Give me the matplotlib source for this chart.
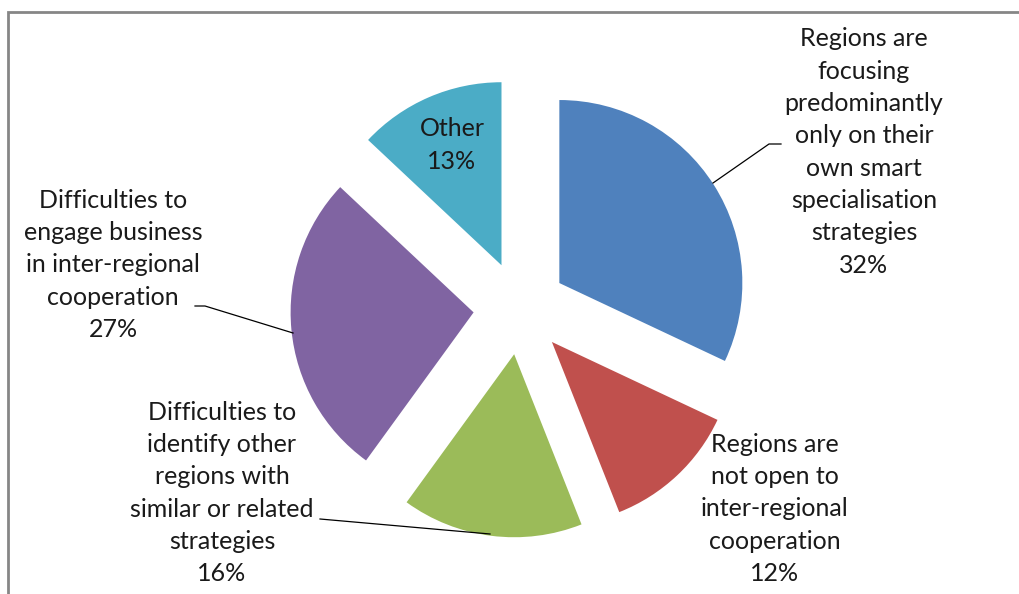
import matplotlib
matplotlib.use('Agg')
import matplotlib.pyplot as plt
from matplotlib.patches import Rectangle

plt.rcParams['font.family'] = ['Lato', 'DejaVu Sans']

# Share of responses (%)
categories = ['Regions are\nfocusing\npredominantly\nonly on their\nown smart\nspecialisation\nstrategies',
              'Regions are\nnot open to\ninter-regional\ncooperation',
              'Difficulties to\nidentify other\nregions with\nsimilar or related\nstrategies',
              'Difficulties to\nengage business\nin inter-regional\ncooperation',
              'Other']
values = [32, 12, 16, 27, 13]
colors = ['#4F81BD', '#C0504D', '#9BBB59', '#8064A2', '#4BACC6']

W, H = 1019, 594
fig = plt.figure(figsize=(W / 100, H / 100), dpi=100)
ax = fig.add_axes([0, 0, 1, 1])

# pixel-like coordinates, y pointing down
cx, cy, r = 520, 308, 183
ax.pie(values, colors=colors, startangle=-90, counterclock=True,
       explode=[46.6] * len(values), radius=r, center=(cx, cy),
       wedgeprops=dict(linewidth=0, edgecolor='none'))
ax.set_xlim(0, W)
ax.set_ylim(H, 0)
ax.set_aspect('equal')
ax.axis('off')

# label positions and leader lines
label_pos = [(864, 152), (775, 509), (222, 493), (113, 265), (452, 145)]
leaders = [[(713, 183), (769, 144), (781, 144)],
           None,
           [(320, 519), (490, 534)],
           [(195, 306), (205, 306), (293, 333)],
           None]

for cat, v, (x, y), ld in zip(categories, values, label_pos, leaders):
    ax.text(x, y, f'{cat}\n{v}%', ha='center', va='center', fontsize=18,
            color='#1a1a1a', linespacing=1.49)
    if ld:
        xs, ys = zip(*ld)
        ax.plot(xs, ys, color='black', lw=0.9)

# chart frame (cut by the image edges)
fig.patches.append(Rectangle((8 / W, -0.1), 1.2, (H - 12) / H + 0.1,
                             transform=fig.transFigure, fill=False,
                             edgecolor='#868686', lw=2))

fig.savefig('out.png', dpi=100)
